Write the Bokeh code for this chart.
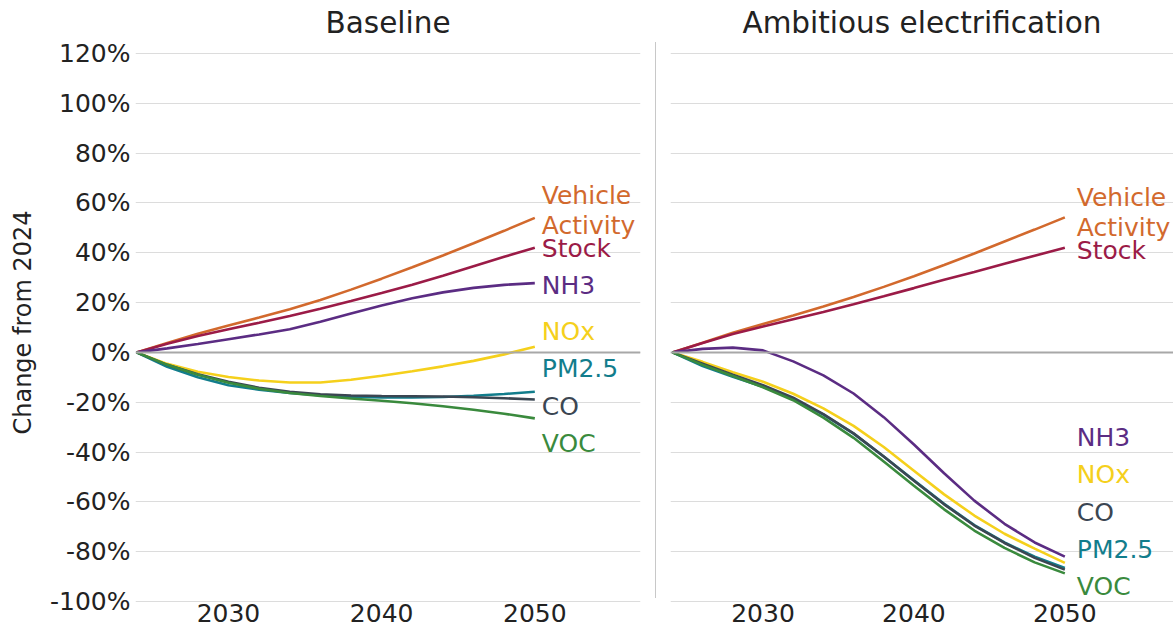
from bokeh.plotting import figure
from bokeh.layouts import row
from bokeh.models import (ColumnDataSource, LabelSet, Span, Range1d, FixedTicker,
                          PrintfTickFormatter, Div)
from bokeh.core.properties import value
from bokeh.embed import file_html
from bokeh.resources import INLINE

years = [2024, 2026, 2028, 2030, 2032, 2034, 2036, 2038, 2040, 2042, 2044, 2046, 2048, 2050]

series_names = ["Vehicle Activity", "Stock", "NH3", "NOx", "PM2.5", "CO", "VOC"]
colors = {
    "Vehicle Activity": "#d2692d",
    "Stock": "#9b1b47",
    "NH3": "#5b2c83",
    "NOx": "#f5d01c",
    "PM2.5": "#127d8c",
    "CO": "#3b4652",
    "VOC": "#3a8a3d",
}

# Baseline scenario (% change from 2024)
base_vehicle = [0, 3.8, 7.5, 10.8, 14.0, 17.3, 21.0, 25.2, 29.6, 34.2, 38.9, 43.8, 48.8, 54.0]
base_stock = [0, 3.5, 6.6, 9.3, 11.9, 14.6, 17.5, 20.6, 23.8, 27.2, 30.8, 34.6, 38.4, 42.0]
base_nh3 = [0, 1.6, 3.4, 5.3, 7.2, 9.3, 12.3, 15.6, 18.8, 21.7, 24.1, 25.9, 27.1, 27.8]
base_nox = [0, -4.6, -7.8, -9.9, -11.3, -12.1, -12.1, -11.0, -9.4, -7.6, -5.6, -3.4, -0.8, 2.3]
base_pm25 = [0, -5.8, -10.0, -13.2, -15.0, -16.3, -17.2, -17.8, -18.1, -18.1, -17.9, -17.4, -16.7, -15.8]
base_co = [0, -5.0, -8.8, -11.8, -14.2, -15.8, -16.8, -17.3, -17.5, -17.6, -17.7, -18.0, -18.4, -18.9]
base_voc = [0, -5.0, -9.0, -12.2, -14.6, -16.3, -17.5, -18.5, -19.4, -20.4, -21.6, -23.0, -24.6, -26.5]

# Ambitious electrification scenario
amb_vehicle = [0, 3.9, 7.9, 11.4, 14.8, 18.4, 22.2, 26.3, 30.6, 35.1, 39.7, 44.5, 49.3, 54.2]
amb_stock = [0, 3.8, 7.4, 10.4, 13.3, 16.2, 19.3, 22.5, 25.8, 29.2, 32.3, 35.6, 38.8, 42.0]
amb_nh3 = [0, 1.4, 1.9, 0.8, -3.6, -9.2, -16.5, -26.0, -37.0, -48.5, -59.5, -68.8, -76.3, -82.0]
amb_nox = [0, -3.8, -8.0, -11.8, -16.6, -22.5, -29.5, -38.0, -47.5, -57.0, -65.5, -72.8, -78.8, -84.5]
amb_pm25 = [0, -5.5, -9.8, -13.8, -18.6, -25.0, -32.6, -41.8, -51.3, -60.8, -69.3, -76.3, -82.0, -86.5]
amb_co = [0, -4.5, -9.0, -13.2, -18.2, -24.8, -32.5, -41.8, -51.5, -61.0, -69.5, -76.5, -82.5, -87.2]
amb_voc = [0, -5.0, -9.5, -14.0, -19.2, -26.2, -34.3, -43.8, -53.5, -63.0, -71.5, -78.5, -84.3, -88.7]

y_ticks = [-100, -80, -60, -40, -20, 0, 20, 40, 60, 80, 100, 120]
x_ticks = [2030, 2040, 2050]

# end-of-line label layout (text and vertical placement in data units)
label_texts = ["Vehicle", "Activity", "Stock", "NH3", "NOx", "PM2.5", "CO", "VOC"]
label_colors_left = [colors["Vehicle Activity"], colors["Vehicle Activity"], colors["Stock"],
                     colors["NH3"], colors["NOx"], colors["PM2.5"], colors["CO"], colors["VOC"]]
label_y_left = [62.8, 51.0, 41.8, 27.0, 8.4, -6.4, -21.7, -36.6]
label_texts_right = ["Vehicle", "Activity", "Stock", "NH3", "NOx", "CO", "PM2.5", "VOC"]
label_colors_right = [colors["Vehicle Activity"], colors["Vehicle Activity"], colors["Stock"],
                      colors["NH3"], colors["NOx"], colors["CO"], colors["PM2.5"], colors["VOC"]]
label_y_right = [62.0, 50.3, 41.0, -34.2, -49.0, -64.4, -79.2, -94.0]

FONT = "DejaVu Sans"
y_range = Range1d(-100.4, 124.4)


def make_panel(title, data, ltexts, lcolors, ly, width, mbl, mbr, x_start, x_end,
               show_y, xoff):
    p = figure(width=width, height=630, output_backend="svg", toolbar_location=None,
               x_range=Range1d(x_start, x_end), y_range=y_range,
               min_border_left=mbl, min_border_right=mbr, min_border_top=42,
               min_border_bottom=28)
    p.title.text = title
    p.title.align = "center"
    p.title.text_font = FONT
    p.title.text_font_size = "29.5px"
    p.title.text_font_style = "normal"
    p.title.text_color = "#222222"
    p.title.standoff = 6
    p.outline_line_color = None
    p.xgrid.visible = False
    p.ygrid.grid_line_color = "#dcdcdc"
    p.ygrid.grid_line_width = 1
    p.yaxis.ticker = FixedTicker(ticks=y_ticks)
    p.yaxis.formatter = PrintfTickFormatter(format="%d%%")
    p.xaxis.ticker = FixedTicker(ticks=x_ticks)
    for ax in (p.xaxis, p.yaxis):
        ax.axis_line_color = None
        ax.major_tick_line_color = None
        ax.minor_tick_line_color = None
        ax.major_tick_out = 0
        ax.major_tick_in = 0
        ax.minor_tick_out = 0
        ax.major_label_text_font = FONT
        ax.major_label_text_font_size = "25px"
        ax.major_label_text_color = "#222222"
    p.xaxis.major_label_standoff = 1
    p.yaxis.major_label_standoff = 5
    if show_y:
        p.yaxis.axis_label = "Change from 2024"
        p.yaxis.axis_label_text_font = FONT
        p.yaxis.axis_label_text_font_size = "24px"
        p.yaxis.axis_label_text_font_style = "normal"
        p.yaxis.axis_label_text_color = "#222222"
        p.yaxis.axis_label_standoff = 10
    else:
        p.yaxis.visible = False

    p.add_layout(Span(location=0, dimension="width", line_color="#a8a8a8", line_width=2))

    for name in series_names:
        p.line(years, data[name], line_color=colors[name], line_width=2.6)

    src = ColumnDataSource(dict(x=[years[-1]] * len(ltexts), y=ly, text=ltexts, color=lcolors))
    p.add_layout(LabelSet(x="x", y="y", text="text", source=src, text_color="color",
                          text_font=value(FONT), text_font_size="25px",
                          text_baseline="middle", text_align="left", x_offset=xoff))
    return p


base = {"Vehicle Activity": base_vehicle, "Stock": base_stock, "NH3": base_nh3,
        "NOx": base_nox, "PM2.5": base_pm25, "CO": base_co, "VOC": base_voc}
amb = {"Vehicle Activity": amb_vehicle, "Stock": amb_stock, "NH3": amb_nh3,
       "NOx": amb_nox, "PM2.5": amb_pm25, "CO": amb_co, "VOC": amb_voc}

p1 = make_panel("Baseline", base, label_texts, label_colors_left, label_y_left,
                655, 135, 15, 2023.93, 2056.9, True, 7)
p2 = make_panel("Ambitious electrification", amb, label_texts_right, label_colors_right,
                label_y_right, 517, 14, 0, 2023.87, 2057.2, False, 12)

divider = Div(width=1, height=556, margin=(42, 0, 0, 0),
              styles={"background-color": "#c8c8c8"})

layout = row(p1, divider, p2, spacing=0)
open("out.html", "w").write(file_html(layout, INLINE))
